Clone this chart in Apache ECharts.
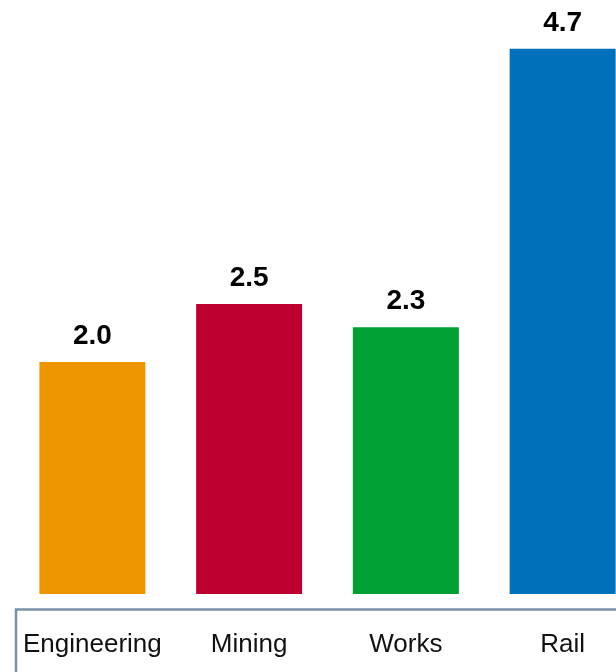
<!DOCTYPE html>
<html>
<head>
<meta charset="utf-8">
<script src="https://cdn.jsdelivr.net/npm/echarts@6/dist/echarts.min.js"></script>
<style>
  html, body { margin: 0; padding: 0; background: #fff; overflow: hidden; }
  /* the plot runs past the right edge of the page, so the last bar is cut off */
  #chart { width: 641px; height: 672px; }
</style>
</head>
<body>
<div id="chart"></div>
<script>
// Segments and their values
const categories = ['Engineering', 'Mining', 'Works', 'Rail'];
const values = [2.0, 2.5, 2.3, 4.7];
const barColors = ['#EE9600', '#BE0030', '#00A032', '#0070BA'];

const chart = echarts.init(document.getElementById('chart'), null, { renderer: 'canvas' });

chart.setOption({
  animation: false,
  backgroundColor: '#ffffff',
  grid: { left: 14, top: 14, right: 0, bottom: 78, containLabel: false },
  xAxis: {
    type: 'category',
    data: categories,
    axisLine: { show: false },
    axisTick: { show: false },
    axisLabel: {
      interval: 0,
      margin: 38,
      fontFamily: 'Liberation Sans, Arial, sans-serif',
      fontSize: 26,
      color: '#111111'
    }
  },
  yAxis: {
    type: 'value',
    min: 0,
    max: 5,
    show: false,
    splitLine: { show: false }
  },
  series: [{
    type: 'bar',
    barWidth: 106,
    data: values.map((v, i) => ({ value: v, itemStyle: { color: barColors[i] } })),
    label: {
      show: true,
      position: 'top',
      distance: 12,
      formatter: p => p.value.toFixed(1),
      fontFamily: 'Liberation Sans, Arial, sans-serif',
      fontWeight: 'bold',
      fontSize: 28,
      color: '#000000'
    }
  }],
  graphic: [{
    type: 'rect',
    shape: { x: 16, y: 609.5, width: 700, height: 200 },
    style: { fill: 'none', stroke: '#7890A8', lineWidth: 2.5 },
    silent: true
  }]
});
</script>
</body>
</html>
